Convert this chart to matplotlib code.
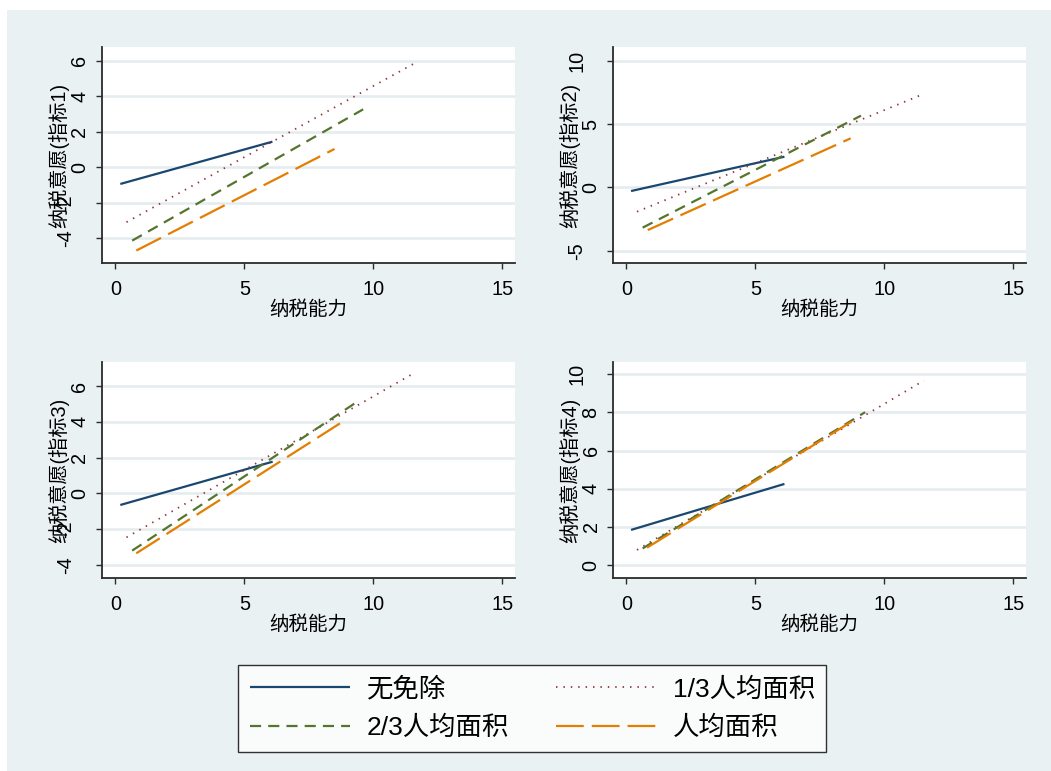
import matplotlib
matplotlib.use("Agg")
import matplotlib.pyplot as plt
import matplotlib.transforms as mtransforms
from matplotlib.patches import Rectangle

plt.rcParams['font.family'] = ['Liberation Sans', 'Noto Sans CJK SC', 'DejaVu Sans']
plt.rcParams['axes.unicode_minus'] = False

# ---------------- data ----------------
series_labels = ['无免除', '1/3人均面积', '2/3人均面积', '人均面积']
y_titles = ['纳税意愿(指标1)', '纳税意愿(指标2)', '纳税意愿(指标3)', '纳税意愿(指标4)']
x_title = '纳税能力'
x_ticks = [0, 5, 10, 15]
y_ticks = [[-4, -2, 0, 2, 4, 6], [-5, 0, 5, 10], [-4, -2, 0, 2, 4, 6], [0, 2, 4, 6, 8, 10]]
y_limits = [(-5.39, 6.77), (-5.97, 11.08), (-4.73, 7.34), (-0.68, 10.64)]

# fitted lines per panel: [start, end]
none_x = [[0.19, 6.09], [0.18, 6.13], [0.19, 6.10], [0.18, 6.13]]
none_y = [[-0.94, 1.44], [-0.29, 2.42], [-0.65, 1.77], [1.84, 4.25]]
third_x = [[0.43, 11.55], [0.41, 11.49], [0.43, 11.45], [0.41, 11.54]]
third_y = [[-3.09, 5.81], [-1.92, 7.34], [-2.46, 6.61], [0.79, 9.67]]
twothird_x = [[0.65, 9.61], [0.63, 9.10], [0.65, 9.35], [0.63, 9.26]]
twothird_y = [[-4.13, 3.26], [-3.18, 5.66], [-3.20, 5.09], [0.87, 8.01]]
full_x = [[0.81, 8.50], [0.83, 8.70], [0.81, 8.71], [0.80, 8.74]]
full_y = [[-4.69, 1.03], [-3.37, 3.87], [-3.35, 3.91], [0.91, 7.52]]

# ---------------- style ----------------
W, H = 1051, 771
bg = '#EAF1F3'
grid_c = '#E4ECEF'
axis_c = '#2b2b2b'
c_none, c_third, c_two, c_full = '#1A476F', '#90353B', '#55752F', '#E37E00'
lw = 1.6
styles = [
    dict(color=c_none, lw=lw, ls='-'),
    dict(color=c_third, lw=1.3, ls=(0, (0.8, 3.3))),
    dict(color=c_two, lw=lw, ls=(0, (5.0, 3.2))),
    dict(color=c_full, lw=lw, ls=(0, (12.5, 3.6))),
]

fig = plt.figure(figsize=(W / 100, H / 100), dpi=100)
fig.patches.append(Rectangle((7 / W, 0), 1 - 7 / W, 1 - 10 / H, transform=fig.transFigure,
                             facecolor=bg, edgecolor='none', zorder=-10))

# axes boxes in pixels: left, right, top, bottom
boxes = [(102, 515, 47, 263), (613, 1026, 47, 263), (102, 515, 362, 578), (613, 1026, 362, 578)]

tick_fs = 14.3
handles = None
for i, (l, r, t, b) in enumerate(boxes):
    ax = fig.add_axes([l / W, 1 - b / H, (r - l) / W, (b - t) / H])
    ax.set_facecolor('white')
    ax.set_xlim(-0.52, 15.5)
    ax.set_ylim(*y_limits[i])
    for s in ['top', 'right']:
        ax.spines[s].set_visible(False)
    for s in ['left', 'bottom']:
        ax.spines[s].set_color(axis_c)
        ax.spines[s].set_linewidth(1.3)
    ax.set_xticks(x_ticks)
    ax.set_xticklabels([str(v) for v in x_ticks], fontsize=tick_fs)
    ax.set_yticks(y_ticks[i])
    ax.tick_params(axis='both', length=4.3, width=1.0, color=axis_c, direction='out')
    ax.tick_params(axis='x', pad=8)
    ax.tick_params(axis='y', labelleft=False)
    for v in y_ticks[i]:
        ax.axhline(v, color=grid_c, lw=1.8, zorder=0)
    # rotated y tick labels (Stata style)
    for v in y_ticks[i]:
        s = str(v)
        off_px = 22 + 14 * (len(s) - 1)
        tr = ax.get_yaxis_transform() + mtransforms.ScaledTranslation(-off_px / 100, 0, fig.dpi_scale_trans)
        ax.text(0, v, s, transform=tr, rotation=90, ha='center', va='center',
                fontsize=tick_fs, color='black', clip_on=False)

    lines = []
    xs = [none_x[i], third_x[i], twothird_x[i], full_x[i]]
    ys = [none_y[i], third_y[i], twothird_y[i], full_y[i]]
    for k in range(4):
        ln, = ax.plot(xs[k], ys[k], label=series_labels[k], solid_capstyle='butt',
                      dash_capstyle='butt', zorder=3, **styles[k])
        lines.append(ln)
    handles = lines

    ax.set_xlabel(x_title, fontsize=14, labelpad=1)
    ax.set_ylabel(y_titles[i], fontsize=14.5)
    ax.yaxis.set_label_coords(-43 / (r - l), 0.5)
    ax.yaxis.label.set_va('center')

# legend (row-wise order: 无免除, 1/3 | 2/3, 人均)
order = [0, 2, 1, 3]
leg_fs = 19
leg = fig.legend([handles[k] for k in order], [series_labels[k] for k in order], ncol=2,
                 loc='upper left', bbox_to_anchor=(238 / W, 1 - 665 / H),
                 fontsize=leg_fs, frameon=True, fancybox=False, edgecolor='black',
                 handlelength=3.79, handletextpad=0.64, columnspacing=1.78,
                 labelspacing=0.55, borderpad=0.44, borderaxespad=0)
leg.get_frame().set_linewidth(1.0)
leg.get_frame().set_facecolor('white')

fig.savefig('out.png', dpi=100, facecolor='white')
